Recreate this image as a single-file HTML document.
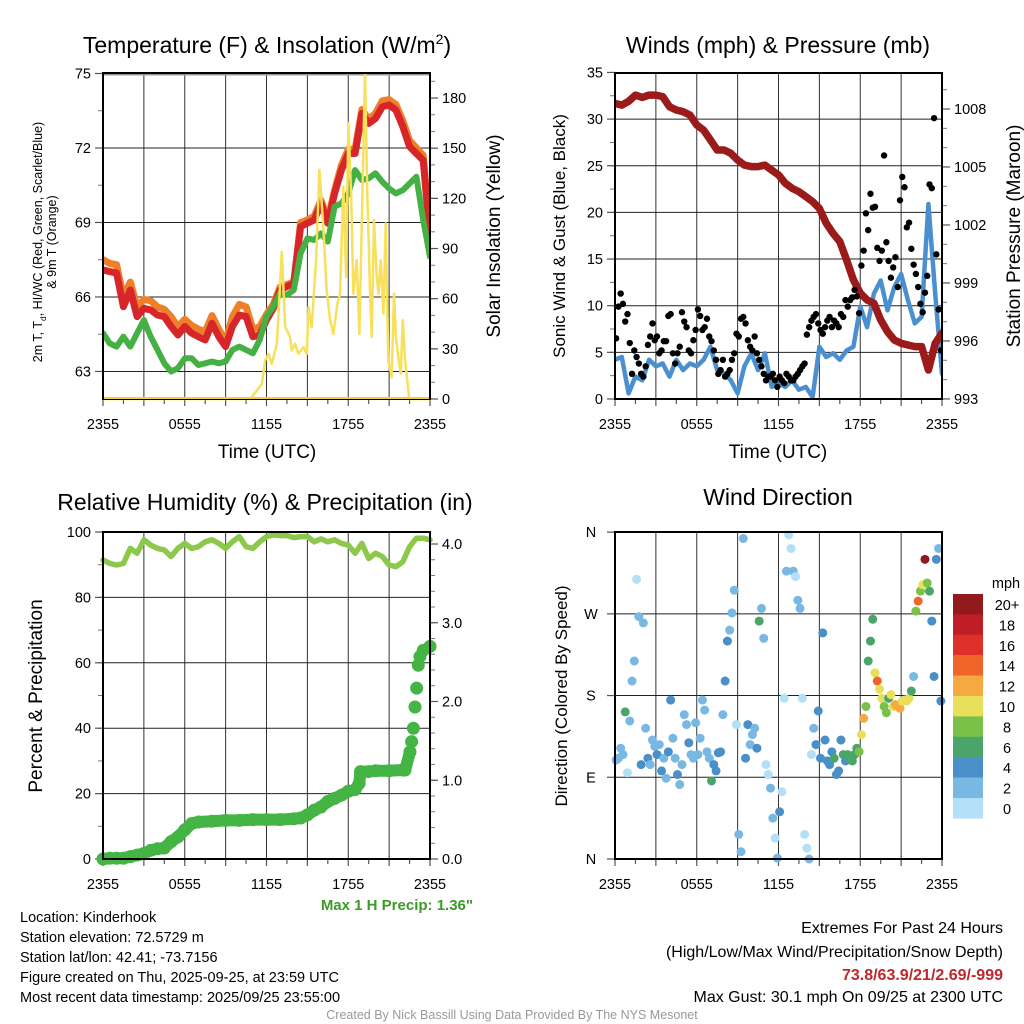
<!DOCTYPE html>
<html><head><meta charset="utf-8"><title>Kinderhook Meteogram</title>
<style>
html,body{margin:0;padding:0;background:#fff;}
svg{display:block;font-family:"Liberation Sans",Arial,sans-serif;}
</style></head>
<body>
<svg id="chart" width="1024" height="1024" viewBox="0 0 1024 1024" xmlns="http://www.w3.org/2000/svg">
<rect x="0" y="0" width="1024" height="1024" fill="#fff"/>
<text x="267" y="53" font-size="23" text-anchor="middle">Temperature (F) &amp; Insolation (W/m<tspan font-size="14" dy="-9">2</tspan><tspan dy="9">)</tspan></text>
<text x="778" y="53" font-size="23" text-anchor="middle">Winds (mph) &amp; Pressure (mb)</text>
<text x="265" y="510" font-size="23" text-anchor="middle">Relative Humidity (%) &amp; Precipitation (in)</text>
<text x="778" y="505" font-size="23" text-anchor="middle">Wind Direction</text>
<text x="267" y="458" font-size="19" text-anchor="middle">Time (UTC)</text>
<text x="778" y="458" font-size="19" text-anchor="middle">Time (UTC)</text>
<text transform="translate(42,242) rotate(-90)" font-size="12.5" text-anchor="middle">2m T, T<tspan font-size="8.5" dy="4">d</tspan><tspan dy="-4">, HI/WC (Red, Green, Scarlet/Blue)</tspan></text>
<text transform="translate(56,242) rotate(-90)" font-size="12.5" text-anchor="middle">&amp; 9m T (Orange)</text>
<text transform="translate(500,236) rotate(-90)" font-size="19" text-anchor="middle">Solar Insolation (Yellow)</text>
<text transform="translate(565,236) rotate(-90)" font-size="17" text-anchor="middle">Sonic Wind &amp; Gust (Blue, Black)</text>
<text transform="translate(1020,236) rotate(-90)" font-size="19" text-anchor="middle">Station Pressure (Maroon)</text>
<text transform="translate(42,696) rotate(-90)" font-size="19" text-anchor="middle">Percent &amp; Precipitation</text>
<text transform="translate(567,696) rotate(-90)" font-size="17" text-anchor="middle">Direction (Colored By Speed)</text>
<text x="473" y="910" font-size="15" font-weight="bold" fill="#3a9a2a" text-anchor="end">Max 1 H Precip: 1.36"</text>
<g font-size="14.5">
<text x="20" y="922">Location: Kinderhook</text>
<text x="20" y="942">Station elevation: 72.5729 m</text>
<text x="20" y="962">Station lat/lon: 42.41; -73.7156</text>
<text x="20" y="982">Figure created on Thu, 2025-09-25, at 23:59 UTC</text>
<text x="20" y="1002">Most recent data timestamp: 2025/09/25 23:55:00</text>
</g>
<g font-size="16" text-anchor="end">
<text x="1003" y="933">Extremes For Past 24 Hours</text>
<text x="1003" y="957">(High/Low/Max Wind/Precipitation/Snow Depth)</text>
<text x="1003" y="980" font-weight="bold" fill="#c0262d">73.8/63.9/21/2.69/-999</text>
<text x="1003" y="1002">Max Gust: 30.1 mph On 09/25 at 2300 UTC</text>
</g>
<text x="512" y="1019" font-size="12.5" fill="#999" text-anchor="middle">Created By Nick Bassill Using Data Provided By The NYS Mesonet</text>
<g id="layer"></g>
</svg>
<script>
// ---------- DATA ----------
const timeTicks = ["2355","0555","1155","1755","2355"];
const tempRed = [67.09,67.02,66.96,65.61,66.28,65.21,65.54,65.48,65.27,65.21,64.81,64.47,64.81,64.54,64.40,64.27,64.94,64.40,64.0,64.81,65.27,65.21,64.40,64.47,65.07,65.54,66.28,66.42,66.55,68.83,68.97,69.1,69.77,68.97,70.17,71.11,71.78,71.78,73.39,72.99,73.19,73.66,73.73,73.53,72.86,72.05,71.78,71.51,68.43];
const tempOrange = [67.5,67.35,67.3,66.0,66.6,65.6,65.9,65.85,65.6,65.5,65.2,64.8,65.1,64.85,64.7,64.6,65.25,64.7,64.2,65.2,65.7,65.6,64.7,64.8,65.3,65.7,66.4,66.5,66.6,69.0,69.1,69.25,69.9,69.1,70.3,71.3,71.95,71.95,73.55,73.15,73.4,73.9,73.95,73.75,73.1,72.3,72.0,71.7,68.6];
const tempGreen = [64.54,64.13,64.0,64.40,64.0,64.54,65.07,64.40,63.87,63.33,63.0,63.13,63.53,63.53,63.26,63.33,63.40,63.33,63.40,63.87,64.0,63.87,63.73,64.27,65.21,65.61,66.15,66.08,66.28,67.76,68.36,68.30,68.56,68.23,69.64,69.77,70.17,71.11,70.71,70.78,70.98,70.64,70.37,70.17,70.30,70.57,70.84,69.10,67.62];
const solarHours = [0,10.8,11.29,11.66,11.9,12.15,12.39,12.76,13.12,13.37,13.73,13.86,14.1,14.34,14.71,14.96,15.08,15.32,15.64,15.88,16.17,16.42,16.67,16.91,17.2,17.4,17.64,17.84,18.01,18.21,18.38,18.62,18.82,18.99,19.23,19.4,19.6,19.72,19.89,20.09,20.23,20.38,20.58,20.75,20.94,21.19,21.36,21.5,21.68,21.85,22.0,22.17,22.48,24];
const solarValues = [0,0,5,9,23,27,21,33,88,43,37,29,33,27,31,27,55,43,83,137,103,65,47,39,57,63,127,73,165,123,63,83,39,103,195,123,63,37,107,73,63,83,51,105,23,13,63,37,25,15,47,23,0,0];
const windSpeed = [4.2,4.5,0.6,2.4,2.0,4.2,3.5,3.8,2.4,4.2,3.1,3.8,3.5,4.2,5.6,3.1,2.7,2.0,0.6,3.5,4.9,3.1,4.9,1.3,1.7,1.3,2.0,1.0,1.3,0.2,5.6,4.5,4.9,4.2,5.2,5.6,9.9,7.7,11.3,12.7,9.5,12.0,13.4,10.6,8.1,8.8,20.9,11.3,2.7];
const pressure = [1008.29,1008.2,1008.4,1008.72,1008.6,1008.72,1008.72,1008.64,1008.12,1007.95,1007.86,1007.69,1007.17,1006.91,1006.4,1005.88,1005.88,1005.71,1005.36,1005.1,1005.02,1005.02,1005.1,1004.84,1004.59,1004.16,1003.9,1003.72,1003.47,1003.21,1002.86,1002.09,1001.57,1001.14,1000.19,999.16,998.47,998.12,997.95,997.09,996.48,996.05,995.88,995.79,995.71,995.71,994.5,995.88,996.4];
const gusts = [6.5,9.9,11.3,10.2,8.3,9.1, 6.0,2.7,5.2,4.5,3.8,2.7, 2.4,3.5,5.8,6.7,8.1,6.3, 6.7,4.9,5.2,6.2,6.2,8.9, 9.1,4.9,3.8,4.9,5.6,9.3, 8.3,7.7,5.2,4.9,6.3,7.4, 9.6,8.9,7.4,7.7,8.6,6.7, 6.2,5.2,4.2,2.7,3.1,4.2, 2.4,2.7,3.1,4.2,4.9,7.0, 6.7,8.6,8.8,8.1,6.3,5.6, 5.2,6.7,4.9,4.2,3.5,2.7, 2.0,2.4,2.4,2.7,2.0,1.3, 2.4,2.0,1.7,2.7,2.4,2.0, 2.0,2.4,2.7,3.1,3.5,3.8, 6.9,7.7,8.4,8.8,9.1,8.1, 7.4,7.0,7.7,8.4,8.8,7.7, 8.4,8.1,7.7,9.1,8.8,10.6, 9.9,10.6,10.9,11.7,11.0,9.2, 14.3,15.9,19.9,18.1,22.0,20.5, 20.6,16.2,14.8,15.9,26.1,16.8, 14.8,13.0,14.1,15.2,12.0,21.3, 23.8,22.7,18.4,18.9,16.1,14.4, 13.4,12.0,10.2,9.3,11.4,13.2, 23.0,22.6,30.1,15.5,9.6,5.2];
const relHum = [91.4,90.4,89.9,90.4,95.0,93.5,97.6,96.0,95.0,94.5,92.5,95.0,96.5,95.0,95.5,97.0,97.6,96.5,95.0,97.0,98.6,95.5,95.0,97.0,98.6,99.1,98.9,98.9,98.3,98.6,98.6,97.0,97.9,97.0,97.6,96.5,96.0,93.5,96.5,91.9,93.5,92.5,89.9,89.4,90.9,95.5,98.1,98.1,97.6];
const precipHours = [0,0.5,1,1.5,2,2.5,3,3.5,4,4.5,5,5.5,6,6.5,7,8,9,10,11,12,13,14,14.5,15,15.5,16,16.5,17,17.5,18,18.5,18.8,18.9,19.5,20,21,22,22.17,22.53,22.65,22.78,22.9,23.02,23.14,23.26,23.5,24];
const precipValues = [0,0.01,0.01,0.01,0.03,0.05,0.07,0.11,0.13,0.14,0.22,0.28,0.37,0.45,0.47,0.48,0.49,0.49,0.5,0.5,0.5,0.51,0.52,0.56,0.62,0.66,0.73,0.77,0.81,0.86,0.88,0.96,1.11,1.11,1.12,1.12,1.13,1.13,1.36,1.49,1.66,1.93,2.17,2.46,2.57,2.65,2.70];
const windDir = [109,111,122,115,162,95, 152,196,218,308,267,104, 260,144,111,104,131,124, 115,126,97,111,89,118, 175,133,111,93,82,104, 159,148,128,115,111,150, 115,133,175,164,118,111, 86,104,97,117,118,159, 196,240,252,271,296,148, 27,8,353,111,148,126, 137,144,122,262,276,243, 104,93,78,45,23,1, 52,74,177,317,357,342, 317,311,285,276,177,27, 12,0,115,144,126,163, 111,249,131,108,104,118, 111,93,97,131,115,108, 115,111,108,115,122,118, 137,155,168,218,240,264, 205,196,187,177,168,161, 177,181,168,170,168,166, 174,175,174,177,185,201, 273,284,295,302,330,304, 295,262,201,330,342,174];
const dirSpeed = [2,2,2,2,6,0, 2,2,2,0,2,4, 2,2,4,2,2,2, 4,2,4,2,2,4, 4,2,2,4,2,2, 2,2,4,2,2,2, 2,2,2,2,2,2, 6,4,4,4,4,2, 4,4,2,2,2,0, 2,2,2,4,4,2, 2,2,4,6,2,2, 0,0,2,2,0,2, 4,0,0,2,0,0, 2,0,2,2,0,0, 0,2,0,2,4,4, 4,4,4,4,4,4, 6,4,4,4,6,4, 6,6,6,6,6,8, 10,12,8,6,6,6, 10,14,10,10,8,8, 6,10,10,12,12,12, 10,10,10,10,6,2, 8,14,8,10,20,8, 6,4,4,4,2,4];
const legendLabels = ["20+","18","16","14","12","10","8","6","4","2","0"];
const legendColors = ["#931a1c","#bf1e26","#dd3028","#ef6428","#f6a940","#e8e05a","#7ac14a","#4aa56b","#4a8fc7","#7ab8e4","#b3e0f7"];
const tempTicks = [63,66,69,72,75];
const solarTicks = [0,30,60,90,120,150,180];
const windTicks = [0,5,10,15,20,25,30,35];
const pressTicks = [993,996,999,1002,1005,1008];
const rhTicks = [0,20,40,60,80,100];
const precipTicks = ["0.0","1.0","2.0","3.0","4.0"];
const dirTicks = ["N","E","S","W","N"];

// ---------- SCALES ----------
const NS = "http://www.w3.org/2000/svg";
const layer = document.getElementById('layer');
function mk(tag, attrs, parent){const e=document.createElementNS(NS,tag);for(const k in attrs)e.setAttribute(k,attrs[k]);(parent||layer).appendChild(e);return e;}
const xL = t => 103 + t*327/24;
const xR = t => 615 + t*327/24;
const yTemp = v => 73.5 + (75-v)*24.83;
const ySolar = v => 399 - v*1.672;
const yWind = v => 399 - v*9.33;
const yPress = v => 109 + (1008-v)*19.33;
const yRH = v => 859 - v*3.27;
const yPrecip = v => 859 - v*78.75;
const yDir = d => 859 - d*0.908;
const halfHour = i => i*0.5;

function colorFor(s){const idx=Math.min(10,Math.floor(s/2));return legendColors[10-idx];}

function frame(x0,y0,x1,y1,hGrid,name){
  const g=mk('g',{});
  
  
  for(let k=1;k<8;k++){
    const x=x0+k*(x1-x0)/8;
    const l=mk('line',{x1:x,y1:y0,x2:x,y2:y1,stroke:'#333','stroke-width':1},g);
    
    
  }
  hGrid.forEach(y=>{
    const l=mk('line',{x1:x0,y1:y,x2:x1,y2:y,stroke:'#222','stroke-width':1},g);
    
    
  });
  for(let k=0;k<=16;k++){
    const x=x0+k*(x1-x0)/16;
    const l=mk('line',{x1:x,y1:y1,x2:x,y2:y1+(k%2?5:7),stroke:'#555','stroke-width':1.2},g);
    
    
  }
  timeTicks.forEach((lab,i)=>{
    const t=mk('text',{x:x0+i*(x1-x0)/4,y:y1+30,'font-size':14.5,'text-anchor':'middle'},g);
    t.textContent=lab;
    
    
  });
  return g;
}
function box(x0,y0,x1,y1,name){
  const r=mk('rect',{x:x0,y:y0,width:x1-x0,height:y1-y0,fill:'none',stroke:'#000','stroke-width':2});
  
  
}
function yTickSet(vals,labels,scale,xAxis,side,name){
  vals.forEach((v,i)=>{
    const y=scale(v);
    const l=mk('line',{x1:xAxis,y1:y,x2:xAxis+side*8,y2:y,stroke:'#555','stroke-width':1.2});
    
    
    const t=mk('text',{x:xAxis+side*12,y:y+5,'font-size':14.5,'text-anchor':side<0?'end':'start'});
    t.textContent=labels[i];
    
    
  });
}
function minorTicks(a,b,step,scale,xAxis,side){
  for(let v=a;v<=b+1e-9;v+=step){
    const l=mk('line',{x1:xAxis,y1:scale(v),x2:xAxis+side*5,y2:scale(v),stroke:'#777','stroke-width':1});
    
    
  }
}
function polyline(xs,ys,stroke,w,name){
  let d='';xs.forEach((x,i)=>{d+=(i?'L':'M')+x.toFixed(1)+','+ys[i].toFixed(1);});
  const p=mk('path',{d:d,fill:'none',stroke:stroke,'stroke-width':w,'stroke-linejoin':'round','stroke-linecap':'round'});
  
  
  return p;
}

// ---------- PANEL 1 ----------
frame(103,73,430,399,[63,66,69,72].map(yTemp),'temp');
const topBand=mk('line',{x1:103,y1:74,x2:430,y2:74,stroke:'#999','stroke-width':3});


minorTicks(63,75,1.5,yTemp,103,-1);
minorTicks(0,190,10,ySolar,430,1);
yTickSet(tempTicks,tempTicks.map(String),yTemp,103,-1,'temp-y');
yTickSet(solarTicks,solarTicks.map(String),ySolar,430,1,'solar-y');
const clip1=mk('clipPath',{id:'c1'});mk('rect',{x:103,y:73,width:327,height:330},clip1);
const g1=mk('g',{'clip-path':'url(#c1)'});


[polyline(tempOrange.map((v,i)=>xL(halfHour(i))),tempOrange.map(yTemp),'#f07f2a',7,'orange-9m-temp-line'),
 polyline(tempRed.map((v,i)=>xL(halfHour(i))),tempRed.map(yTemp),'#d7262a',7,'red-2m-temp-line'),
 polyline(tempGreen.map((v,i)=>xL(halfHour(i))),tempGreen.map(yTemp),'#45b043',6,'green-dewpoint-line'),
 polyline(solarHours.map(xL),solarValues.map(ySolar),'#f9e05a',2.5,'yellow-solar-line')].forEach(p=>g1.appendChild(p));
box(103,73,430,399,'temp');
const solarBase=mk('line',{x1:104,y1:398,x2:429,y2:398,stroke:'#f0d040','stroke-width':2});



// ---------- PANEL 2 ----------
frame(615,73,942,399,[5,10,15,20,25,30].map(yWind),'wind');
minorTicks(0,35,2.5,yWind,615,-1);
minorTicks(993,1009.5,1,yPress,942,1);
yTickSet(windTicks,windTicks.map(String),yWind,615,-1,'wind-y');
yTickSet(pressTicks,pressTicks.map(String),yPress,942,1,'pressure-y');
const clip2=mk('clipPath',{id:'c2'});mk('rect',{x:615,y:73,width:327,height:326},clip2);
const g2=mk('g',{'clip-path':'url(#c2)'});


g2.appendChild(polyline(windSpeed.map((v,i)=>xR(halfHour(i))),windSpeed.map(yWind),'#4a90d0',4.5,'blue-wind-line'));
g2.appendChild(polyline(pressure.map((v,i)=>xR(halfHour(i))),pressure.map(yPress),'#9b1b1b',7.5,'maroon-pressure-line'));
gusts.forEach((v,i)=>{
  const c=mk('circle',{cx:xR((i+0.5)/6),cy:yWind(v),r:3.2,fill:'#000'},g2);
  
  
});
box(615,73,942,399,'wind');

// ---------- PANEL 3 ----------
frame(103,532,430,859,[20,40,60,80].map(yRH),'rh');
minorTicks(0,100,10,yRH,103,-1);
minorTicks(0,4.1,0.2,yPrecip,430,1);
yTickSet(rhTicks,rhTicks.map(String),yRH,103,-1,'rh-y');
yTickSet([0,1,2,3,4],precipTicks,yPrecip,430,1,'precip-y');
const g3=mk('g',{});


g3.appendChild(polyline(relHum.map((v,i)=>xL(halfHour(i))),relHum.map(yRH),'#8cc84b',5.5,'rh-line'));
const contIdx=precipHours.filter(h=>h<=22.6).length;
g3.appendChild(polyline(precipHours.slice(0,contIdx).map(xL),precipValues.slice(0,contIdx).map(yPrecip),'#44b444',12,'precip-line'));
precipHours.forEach((h,i)=>{
  const c=mk('circle',{cx:xL(h),cy:yPrecip(precipValues[i]),r:6.5,fill:'#44b444'},g3);
  
  
});
box(103,532,430,859,'rh');

// ---------- PANEL 4 ----------
frame(615,532,942,859,[90,180,270].map(yDir),'direction');
[0,90,180,270,360].forEach((d,i)=>{
  const l=mk('line',{x1:615,y1:yDir(d),x2:607,y2:yDir(d),stroke:'#555','stroke-width':1.2});
  
  
  const t=mk('text',{x:591,y:yDir(d)+5,'font-size':14.5,'text-anchor':'middle'});
  t.textContent=dirTicks[i];
  
  
});
const g4=mk('g',{});


windDir.forEach((d,i)=>{
  const c=mk('circle',{cx:xR((i+0.5)/6),cy:yDir(d),r:4.5,fill:colorFor(dirSpeed[i])},g4);
  
  
});
box(615,532,942,859,'direction');

// ---------- LEGEND ----------
const lg=mk('g',{});


const mph=mk('text',{x:1006,y:588,'font-size':14.5,'text-anchor':'middle'},lg);
mph.textContent='mph';


legendColors.forEach((c,i)=>{
  const r=mk('rect',{x:953,y:594+i*20.4,width:30,height:20.6,fill:c},lg);
  
  
  const t=mk('text',{x:1007,y:594+i*20.4+16,'font-size':14.5,'text-anchor':'middle'},lg);
  t.textContent=legendLabels[i];
  
  
});
</script>
</body></html>
